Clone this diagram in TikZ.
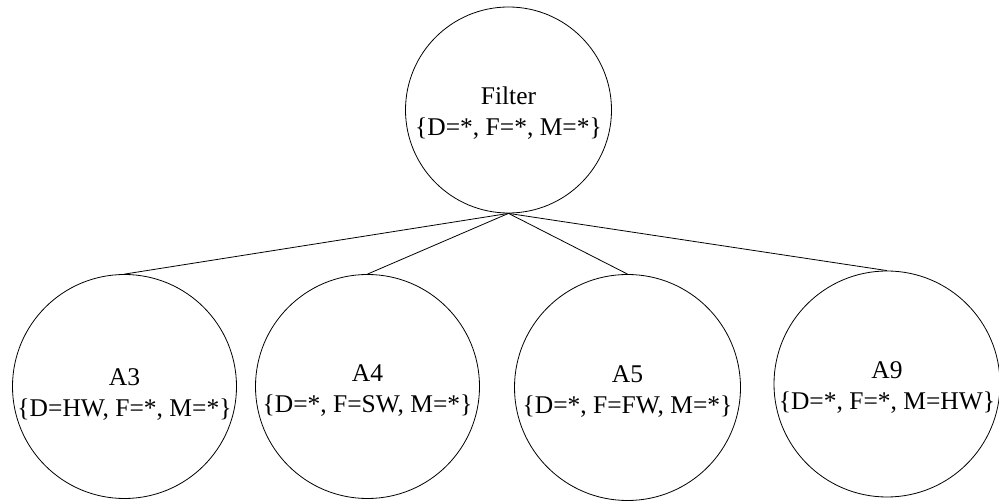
\documentclass[tikz,border=0pt]{standalone}
\usepackage{fontspec}
\setmainfont{Liberation Serif}
\begin{document}
\begin{tikzpicture}[x=1pt,y=-1pt,
  setnode/.style={draw, circle, inner sep=0pt, line width=0.8pt},
  settext/.style={inner sep=0pt, align=center,
    font=\fontsize{25.5}{31}\selectfont},
  link/.style={line width=0.8pt}]
\useasboundingbox (0,0) rectangle (999,502);
\node[setnode, minimum size=206pt] (filter) at (508.5,110) {};
\node[setnode, minimum size=224pt] (a3) at (124.5,386.5) {};
\node[setnode, minimum size=224pt] (a4) at (367.5,386.5) {};
\node[setnode, minimum size=226pt] (a5) at (627.5,387.5) {};
\node[setnode, minimum size=226pt] (a9) at (887,384) {};
\node[settext] (filtertext) at ([yshift=-3pt]filter.center) {Filter\\\{D=*, F=*, M=*\}};
\node[settext] (a3text) at ([yshift=-8pt]a3.center) {A3\\\{D=HW, F=*, M=*\}};
\node[settext] (a4text) at ([yshift=-4pt]a4.center) {A4\\\{D=*, F=SW, M=*\}};
\node[settext] (a5text) at ([yshift=-4pt]a5.center) {A5\\\{D=*, F=FW, M=*\}};
\node[settext] (a9text) at ([yshift=-4pt]a9.center) {A9\\\{D=*, F=*, M=HW\}};
\draw[link] (filter.south) -- (a3.north);
\draw[link] (filter.south) -- (a4.north);
\draw[link] (filter.south) -- (a5.north);
\draw[link] (filter.south) -- (a9.north);
\end{tikzpicture}
\end{document}
